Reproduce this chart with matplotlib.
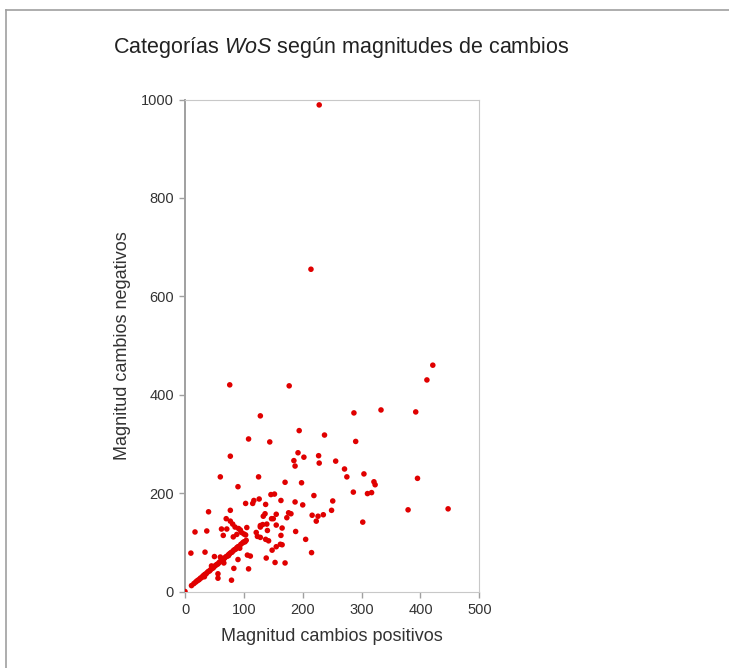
import matplotlib
matplotlib.use('Agg')
from matplotlib import pyplot as plt
from matplotlib.lines import Line2D

plt.rcParams['font.family'] = ['Liberation Sans', 'DejaVu Sans']
plt.rcParams['mathtext.fontset'] = 'custom'
plt.rcParams['mathtext.rm'] = 'Liberation Sans'
plt.rcParams['mathtext.it'] = 'Liberation Sans:italic'

# magnitud de cambios positivos / negativos por categoria WoS
pos = [228, 214,
       421, 411, 333, 287, 392, 76, 177, 128, 194, 237, 108, 144, 290,
       192, 77, 202, 227, 185, 187, 271, 275, 304, 321, 323, 395, 60,
       125, 90, 170, 198, 286, 317, 219, 251, 249, 235, 223, 216, 379,
       447, 302, 200, 146, 152, 163, 126, 115, 103, 137, 176, 180, 155,
       136, 133, 147, 173, 155, 139, 132, 128, 121, 123, 128, 140, 137,
       142, 165, 163, 165, 162, 155, 148, 188, 205, 215, 138, 153, 170,
       77, 40, 70, 77, 81, 62, 71, 85, 91, 94, 105, 65, 82, 88, 96, 103,
       104, 100, 17, 37, 10, 34, 50, 74, 90, 106, 111, 83, 108, 79, 56,
       56, 11, 0, 102, 187, 226, 117, 128, 150, 228, 310, 256,
       15, 18, 20, 22, 24, 26, 28, 30, 32, 34, 36, 38, 40, 42, 44, 46,
       48, 50, 52, 54, 56, 58, 60, 62, 64, 66, 68, 70, 72, 74, 76, 78,
       80, 82, 84, 86, 88, 90, 92, 95, 98, 100, 45, 60, 33, 66, 93]
neg = [989, 655,
       460, 430, 369, 363, 365, 420, 418, 357, 327, 318, 310, 304, 305,
       282, 275, 273, 276, 266, 255, 249, 233, 239, 223, 217, 230, 233,
       233, 213, 222, 221, 202, 201, 195, 184, 165, 156, 143, 155, 166,
       168, 141, 176, 197, 198, 185, 188, 179, 179, 177, 160, 158, 157,
       158, 153, 148, 150, 135, 137, 136, 134, 120, 112, 110, 124, 106,
       103, 129, 114, 95, 96, 91, 84, 122, 106, 79, 68, 59, 58,
       165, 162, 148, 143, 137, 127, 127, 131, 128, 125, 130, 114, 111,
       116, 120, 115, 104, 117, 121, 123, 78, 80, 71, 73, 65, 74, 72, 47,
       46, 23, 36, 27, 12, 0, 101, 182, 153, 185, 131, 148, 261, 199, 265,
       16, 19, 21, 23, 24, 27, 28, 31, 33, 35, 36, 39, 41, 42, 45, 47,
       48, 51, 53, 55, 56, 59, 61, 62, 65, 66, 69, 71, 72, 75, 77, 79,
       80, 83, 85, 86, 89, 91, 92, 96, 99, 101, 52, 70, 30, 58, 88]

fig = plt.figure(figsize=(7.29, 6.68), dpi=100)

# marco gris (arriba e izquierda)
fig.add_artist(Line2D([6/729, 6/729], [0, 1 - 10/668], transform=fig.transFigure,
                      color='#a0a0a0', lw=1.2))
fig.add_artist(Line2D([6/729, 1], [1 - 10/668, 1 - 10/668], transform=fig.transFigure,
                      color='#a0a0a0', lw=1.2))

ax = fig.add_axes([185/729, 76.5/668, 294.3/729, 492/668])
ax.scatter(pos, neg, s=16, color='#e00000', edgecolors='none', zorder=3)

ax.set_xlim(0, 500)
ax.set_ylim(0, 1000)
ax.set_xticks([0, 100, 200, 300, 400, 500])
ax.set_yticks([0, 200, 400, 600, 800, 1000])
ax.tick_params(direction='out', length=4, width=1, color='#a0a0a0',
               labelsize=10.5, labelcolor='#333333', pad=4)
ax.spines['left'].set_color('#a0a0a0')
ax.spines['bottom'].set_color('#c8c8c8')
ax.spines['top'].set_color('#c8c8c8')
ax.spines['right'].set_color('#c8c8c8')
ax.spines['left'].set_linewidth(1.4)

ax.set_xlabel('Magnitud cambios positivos', fontsize=13, color='#333333', labelpad=8)
ax.set_ylabel('Magnitud cambios negativos', fontsize=13, color='#333333', labelpad=7)

fig.text(113/729, 1 - 48/668, 'Categorías $\\mathit{WoS}$ según magnitudes de cambios',
         fontsize=15.5, color='#222222', va='center', ha='left')

fig.savefig('out.png', dpi=100)
